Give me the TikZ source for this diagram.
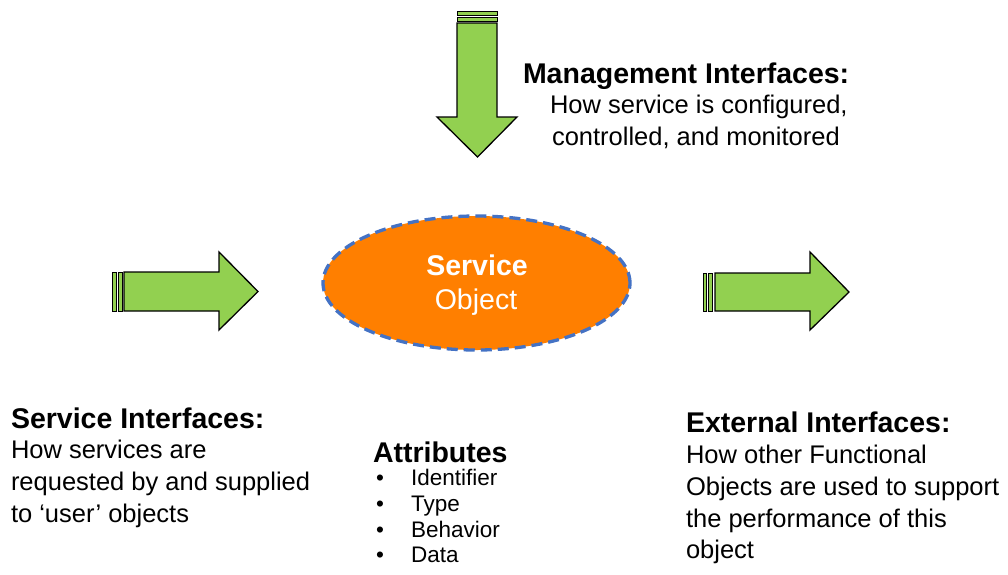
\documentclass[tikz,border=0pt]{standalone}
\usepackage{fontspec}
\setmainfont{Liberation Sans}
\usetikzlibrary{shapes.geometric}
\definecolor{arrgreen}{RGB}{146,208,80}
\definecolor{svcorange}{RGB}{255,127,0}
\definecolor{dashblue}{RGB}{68,114,196}
\tikzset{
  greenarrow/.style={fill=arrgreen,draw=black,line width=1.3pt,line join=miter},
  stripbox/.style={fill=arrgreen,draw=black,line width=0.8pt},
  txt/.style={inner sep=0pt,outer sep=0pt,anchor=base west,text=black},
  headfont/.style={font=\fontsize{28.5}{34}\selectfont\bfseries},
  bodyfont/.style={font=\fontsize{25.5}{31}\selectfont},
  listfont/.style={font=\fontsize{22.5}{26}\selectfont},
}
\begin{document}
\begin{tikzpicture}[x=1pt,y=-1pt]
\useasboundingbox (0,0) rectangle (1008,574);
% left arrow
\draw[stripbox] (112,272) rectangle (116,311);
\draw[stripbox] (118,272) rectangle (122,311);
\draw[greenarrow] (124,272) -- (219,272) -- (219,252) -- (258,291.5) -- (219,330) -- (219,311) -- (124,311) -- cycle;
% right arrow
\draw[stripbox] (703,273) rectangle (706.5,311);
\draw[stripbox] (708.5,273) rectangle (712.5,311);
\draw[greenarrow] (715,273) -- (810,273) -- (810,252) -- (849,292) -- (810,330) -- (810,311) -- (715,311) -- cycle;
% top arrow
\draw[stripbox] (457,11.5) rectangle (497,15);
\draw[stripbox] (457,17) rectangle (497,21);
\draw[greenarrow] (457,23) -- (457,117) -- (437,117) -- (477.5,157) -- (517,117) -- (497,117) -- (497,23) -- cycle;
% service object
\node[ellipse,fill=svcorange,draw=dashblue,line width=3.3pt,dash pattern=on 11pt off 6pt,
      minimum width=307pt,minimum height=134pt,inner sep=0pt] (svc) at (476.5,283) {};
\node[inner sep=0pt,anchor=base,text=white,font=\fontsize{28.5}{34}\selectfont\bfseries] (svct) at (477,275) {Service};
\node[inner sep=0pt,anchor=base,text=white,font=\fontsize{28.5}{34}\selectfont] (svco) at (476,309) {Object};
% management interfaces
\node[txt,headfont] (mh) at (523,83) {Management Interfaces:};
\node[txt,bodyfont] (m1) at (550,113) {How service is configured,};
\node[txt,bodyfont] (m2) at (552,145) {controlled, and monitored};
% service interfaces
\node[txt,headfont] (sh) at (11,428) {Service Interfaces:};
\node[txt,bodyfont] (s1) at (11,458) {How services are};
\node[txt,bodyfont] (s2) at (11,490) {requested by and supplied};
\node[txt,bodyfont] (s3) at (11,522) {to ‘user’ objects};
% attributes
\node[txt,headfont] (ah) at (373,462) {Attributes};
\node[txt,listfont] (ab1) at (376,485) {•};
\node[txt,listfont] (a1) at (411,485) {Identifier};
\node[txt,listfont] (ab2) at (376,511) {•};
\node[txt,listfont] (a2) at (411,511) {Type};
\node[txt,listfont] (ab3) at (376,537) {•};
\node[txt,listfont] (a3) at (411,537) {Behavior};
\node[txt,listfont] (ab4) at (376,562) {•};
\node[txt,listfont] (a4) at (411,562) {Data};
% external interfaces
\node[txt,headfont] (eh) at (686,432) {External Interfaces:};
\node[txt,bodyfont] (e1) at (686,463) {How other Functional};
\node[txt,bodyfont] (e2) at (686,495) {Objects are used to support};
\node[txt,bodyfont] (e3) at (686,527) {the performance of this};
\node[txt,bodyfont] (e4) at (686,558) {object};
\end{tikzpicture}
\end{document}
